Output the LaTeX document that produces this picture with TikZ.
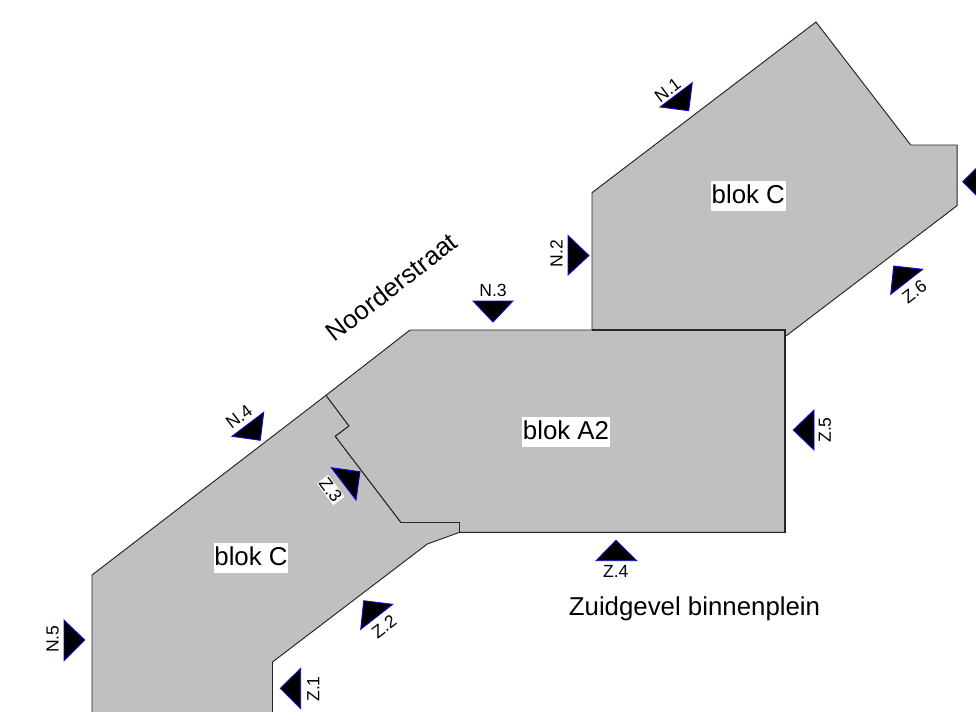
\documentclass[tikz,border=0pt]{standalone}
\usepackage{fontspec}
\setmainfont{Liberation Sans}
\definecolor{blokgrey}{HTML}{C0C0C0}
\definecolor{markblue}{HTML}{0A0AE6}
\tikzset{
  blok/.style={draw=black!85, fill=blokgrey, line width=0.55pt, line join=miter},
  marker/.style={fill=black, draw=markblue, line width=0.5pt, line join=miter},
  bloklabel/.style={fill=white, font=\fontsize{14.7}{17}\selectfont, inner xsep=0.4pt, inner ysep=0.8pt, text height=12pt, text depth=3.2pt},
  gevel/.style={font=\fontsize{10}{12}\selectfont, inner sep=0pt},
  straat/.style={font=\fontsize{14.7}{17}\selectfont, inner sep=0pt}
}
\begin{document}
\begin{tikzpicture}[x=0.02cm,y=-0.02cm]
       \useasboundingbox (0,0) rectangle (976,711);
       \clip (0,0) rectangle (976,711);
       %blocks
       \draw[blok] (816,22) -- (910.7,145) -- (957,145) -- (957,205.7) -- (785,336.7) -- (785,330) -- (592,330) -- (592,192.7) -- cycle;
       \draw[blok] (326,395.3) -- (349,426) -- (335.3,436.3) -- (401,522.5) -- (459.5,522.5) -- (459.5,532.3) -- (427.3,544) -- (272.5,662) -- (272.5,715) -- (92,715) -- (92,575) -- cycle;
       \draw[blok] (410,330) -- (785,330) -- (785,532.3) -- (459.5,532.3) -- (459.5,522.5) -- (401,522.5) -- (335.3,436.3) -- (349,426) -- (326,395.3) -- cycle;
       \draw[line width=0.8pt,draw=black!85] (592,330) -- (785,330) -- (785,532.3) -- (583,532.3);
       %markers north side
       \draw[marker] (692.3,82.7) -- (660,107) -- (688.7,110.7) -- cycle;
       \draw[marker] (568,235.5) -- (589,255.5) -- (568,275) -- cycle;
       \draw[marker] (473,301) -- (513,301) -- (493,322) -- cycle;
       \draw[marker] (263.7,412.3) -- (232,436.3) -- (260.3,440.3) -- cycle;
       \draw[marker] (64,620) -- (84.7,640) -- (64,660.7) -- cycle;
       %markers south side
       \draw[marker] (300.7,668.3) -- (280.3,688.3) -- (300.7,708.7) -- cycle;
       \draw[marker] (363.7,600.7) -- (392.7,604.3) -- (360.7,629.3) -- cycle;
       \draw[marker] (331.3,467.7) -- (360,471.7) -- (356,500) -- cycle;
       \draw[marker] (616,540.3) -- (596,560.7) -- (636.7,560.7) -- cycle;
       \draw[marker] (814,410) -- (793.3,430) -- (814,450) -- cycle;
       \draw[marker] (893.7,266) -- (922.7,269.3) -- (890.7,294.3) -- cycle;
       \draw[marker] (983,161.7) -- (962.7,181.7) -- (983,202) -- cycle;
       %labels
       \node[gevel,rotate=37] (n1) at (667.7,90) {N.1};
       \node[gevel,rotate=90] (n2) at (556.5,253.5) {N.2};
       \node[gevel] (n3) at (493,290) {N.3};
       \node[gevel,rotate=37] (n4) at (239,416.7) {N.4};
       \node[gevel,rotate=90] (n5) at (52.7,639) {N.5};
       \node[gevel,rotate=90] (z1) at (313.3,689) {Z.1};
       \node[gevel,rotate=37] (z2) at (384,626.7) {Z.2};
       \node[gevel,rotate=-53,fill=white,inner sep=0.5pt] (z3) at (330.7,490) {Z.3};
       \node[gevel] (z4) at (615.7,571.7) {Z.4};
       \node[gevel,rotate=90] (z5) at (825,430) {Z.5};
       \node[gevel,rotate=37] (z6) at (914.3,291.7) {Z.6};
       \node[bloklabel] (blokCboven) at (748.3,196) {blok C};
       \node[bloklabel] (blokConder) at (251,558) {blok C};
       \node[bloklabel] (blokA) at (566,432) {blok A2};
       \node[straat,rotate=38] (noorder) at (391.5,287) {Noorderstraat};
       \node[straat] (zuid) at (694.5,609) {Zuidgevel binnenplein};
\end{tikzpicture}
\end{document}
